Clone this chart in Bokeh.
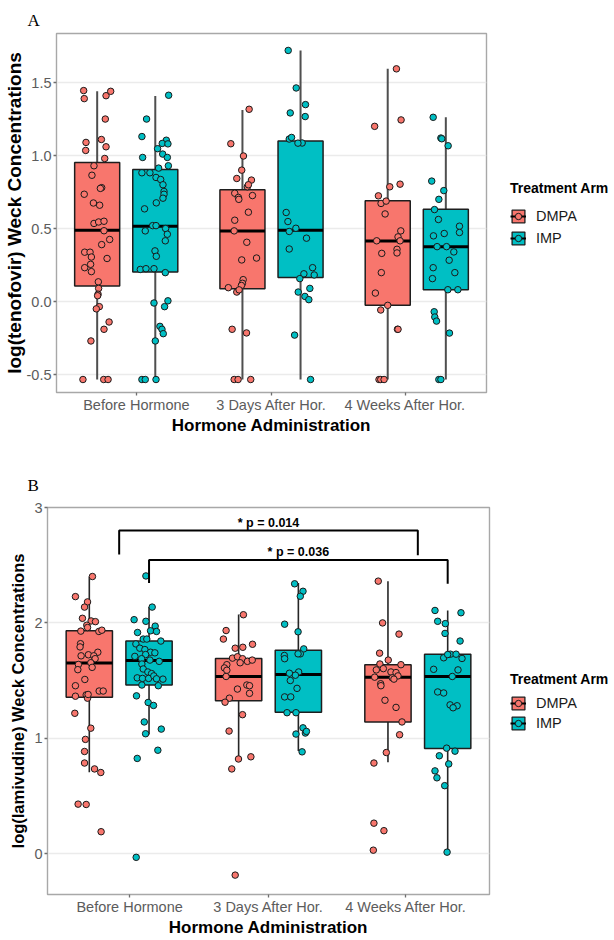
from bokeh.plotting import figure
from bokeh.models import (ColumnDataSource, FixedTicker, Legend, LegendItem,
                          Title, Range1d)
from bokeh.layouts import row
from bokeh.embed import file_html
from bokeh.resources import INLINE
from bokeh.core.properties import value

# ---------------- data ----------------
categories = ["Before Hormone", "3 Days After Hor.", "4 Weeks After Hor."]
arms = ["DMPA", "IMP"]
arm_colors = ["#F8766D", "#00BFC4"]
x_tick_positions = [1.07, 2.0, 2.92]

# Panel A: log(tenofovir)
a_y_ticks = [-0.5, 0.0, 0.5, 1.0, 1.5]
a_y_tick_labels = ["-0.5", "0.0", "0.5", "1.0", "1.5"]
a_dmpa_lower = [-0.534, -0.534, -0.534]
a_dmpa_q1 = [0.106, 0.088, -0.026]
a_dmpa_median = [0.489, 0.484, 0.415]
a_dmpa_q3 = [0.953, 0.765, 0.690]
a_dmpa_upper = [1.440, 1.312, 1.594]
a_imp_lower = [-0.534, -0.534, -0.534]
a_imp_q1 = [0.203, 0.164, 0.081]
a_imp_median = [0.516, 0.489, 0.376]
a_imp_q3 = [0.905, 1.100, 0.633]
a_imp_upper = [1.408, 1.720, 1.262]

a_dmpa_before_y = [1.445, 1.39, 1.41, 1.44, 1.25, 1.09, 1.035, 1.11, 1.06, 0.98, 0.93, 0.865, 0.78, 0.775,
                   0.735, 0.675, 0.66, 0.535, 0.545, 0.55, 0.485, 0.425, 0.39, 0.338, 0.338, 0.305, 0.295,
                   0.255, 0.232, 0.205, 0.135, 0.09, 0.05, 0.04, -0.035, -0.05, -0.14, -0.19, -0.27,
                   -0.534, -0.534, -0.534]
a_dmpa_before_jit = [-0.093, -0.089, 0.061, 0.093, 0.056, -0.077, -0.079, 0.029, 0.061, 0.052, -0.022, -0.036,
                     0.031, 0.022, -0.089, -0.026, 0.017, -0.022, 0.010, 0.047, 0.047, 0.086, 0.031, -0.086,
                     -0.049, -0.040, 0.068, -0.045, -0.086, -0.040, 0.008, 0.010, 0.006, 0.003, 0.015, -0.006,
                     0.082, 0.047, -0.043, -0.098, 0.045, 0.075]
a_imp_before_y = [1.413, 1.25, 1.13, 0.987, 1.105, 1.083, 1.08, 1.047, 1.01, 0.987, 0.93, 0.914, 0.882, 0.882,
                  0.85, 0.836, 0.80, 0.754, 0.735, 0.708, 0.676, 0.635, 0.484, 0.52, 0.52, 0.50, 0.461, 0.416,
                  0.347, 0.31, 0.22, 0.225, 0.225, 0.198, -0.01, 0.005, -0.035, -0.17, -0.19, -0.22, -0.27,
                  -0.534, -0.534, -0.534]
a_imp_before_jit = [0.092, -0.060, -0.092, -0.087, 0.076, 0.048, 0.087, 0.016, 0.051, 0.083, 0.090, 0.023,
                    -0.092, -0.037, 0.005, 0.037, 0.053, 0.060, 0.060, 0.053, 0.007, -0.074, -0.069, -0.018,
                    0.005, 0.071, 0.083, 0.069, -0.002, 0.007, -0.103, -0.064, -0.009, 0.069, -0.009, 0.087,
                    0.064, 0.032, 0.046, 0.055, 0.0, -0.092, -0.069, 0.005]
a_dmpa_3days_y = [1.081, 1.317, 0.997, 0.843, 0.90, 0.832, 0.786, 0.80, 0.742, 0.713, 0.70, 0.726, 0.612, 0.557,
                  0.484, 0.406, 0.298, 0.285, 0.15, 0.125, 0.11, 0.095, 0.065, 0.08, -0.19, -0.215,
                  -0.534, -0.534, -0.534]
a_dmpa_3days_jit = [-0.080, 0.046, 0.007, -0.039, -0.005, 0.062, 0.034, 0.041, -0.053, -0.028, -0.025, 0.069,
                    0.041, -0.053, -0.057, 0.030, 0.097, -0.005, 0.005, 0.0, -0.007, -0.097, -0.039, -0.023,
                    -0.071, 0.028, -0.057, -0.030, 0.057]
a_imp_3days_y = [1.72, 1.463, 1.292, 1.349, 1.267, 1.113, 1.124, 1.086, 1.085, 0.61, 0.548, 0.48, 0.502, 0.36,
                 0.434, 0.232, 0.182, 0.19, 0.157, 0.09, 0.065, 0.035, 0.013, -0.23, -0.534]
a_imp_3days_jit = [-0.085, -0.030, -0.071, 0.034, 0.032, -0.078, -0.062, 0.011, -0.018, -0.099, -0.087, -0.078,
                   -0.032, -0.078, 0.041, 0.083, 0.094, 0.023, -0.005, 0.064, -0.016, 0.030, 0.057, -0.041,
                   0.069]
a_dmpa_4weeks_y = [1.594, 1.2, 1.244, 0.804, 0.786, 0.724, 0.672, 0.688, 0.60, 0.484, 0.443, 0.416, 0.416, 0.358,
                   0.333, 0.33, 0.198, 0.058, -0.026, -0.058, -0.19, -0.19, -0.534, -0.534, -0.534]
a_dmpa_4weeks_jit = [0.060, -0.090, 0.092, 0.085, 0.014, -0.064, -0.046, -0.011, -0.018, 0.090, 0.071, 0.085,
                     -0.076, 0.064, 0.064, -0.041, -0.044, -0.085, 0.0, -0.048, 0.067, 0.071, -0.060, -0.048,
                     -0.025]
a_imp_4weeks_y = [1.262, 1.12, 1.115, 1.067, 0.825, 0.76, 0.70, 0.63, 0.562, 0.45, 0.466, 0.516, 0.473, 0.376,
                  0.376, 0.34, 0.283, 0.232, 0.198, 0.157, 0.081, 0.081, -0.07, -0.106, -0.134, -0.216,
                  -0.534, -0.534]
a_imp_4weeks_jit = [-0.087, -0.034, -0.028, 0.016, -0.097, -0.014, -0.048, -0.078, -0.051, -0.085, -0.011, 0.094,
                    0.094, -0.060, 0.005, 0.055, 0.023, -0.087, 0.062, -0.092, 0.014, 0.083, -0.080, -0.076,
                    -0.064, 0.025, -0.048, -0.034]

# Panel B: log(lamivudine)
b_y_ticks = [0, 1, 2, 3]
b_y_tick_labels = ["0", "1", "2", "3"]
b_dmpa_lower = [0.707, 0.820, 0.792]
b_dmpa_q1 = [1.356, 1.325, 1.142]
b_dmpa_median = [1.652, 1.536, 1.530]
b_dmpa_q3 = [1.932, 1.692, 1.638]
b_dmpa_upper = [2.400, 2.074, 2.360]
b_imp_lower = [1.034, 0.890, 0.014]
b_imp_q1 = [1.462, 1.225, 0.912]
b_imp_median = [1.675, 1.553, 1.536]
b_imp_q3 = [1.843, 1.764, 1.729]
b_imp_upper = [2.137, 2.345, 2.108]

b_dmpa_before_y = [2.402, 2.228, 2.182, 2.137, 2.04, 2.017, 2.011, 1.98, 1.96, 1.929, 1.926, 1.937, 1.82, 1.792,
                   1.746, 1.724, 1.715, 1.715, 1.69, 1.655, 1.615, 1.64, 1.595, 1.51, 1.456, 1.41, 1.41, 1.365,
                   1.376, 1.348, 1.38, 1.217, 1.088, 0.991, 0.886, 0.786, 0.735, 0.704, 0.43, 0.427, 0.191]
b_dmpa_before_jit = [0.021, -0.093, -0.012, -0.032, -0.046, 0.012, 0.041, -0.017, -0.012, -0.057, 0.064, 0.084,
                     -0.059, -0.062, 0.057, -0.006, 0.030, -0.055, 0.039, 0.010, 0.019, -0.073, -0.077, -0.030,
                     -0.093, 0.066, 0.093, -0.093, -0.021, -0.012, -0.008, -0.097, 0.010, -0.026, -0.032,
                     -0.032, 0.035, 0.077, -0.075, -0.021, 0.079]
b_imp_before_y = [2.407, 2.137, 2.028, 2.014, 1.972, 1.932, 1.926, 1.917, 1.86, 1.86, 1.843, 1.818, 1.781, 1.769,
                  1.746, 1.741, 1.726, 1.71, 1.69, 1.678, 1.667, 1.644, 1.601, 1.575, 1.561, 1.524, 1.519, 1.519,
                  1.541, 1.516, 1.513, 1.462, 1.456, 1.368, 1.311, 1.285, 1.142, 1.08, 1.04, 0.897, 0.826,
                  -0.031]
b_imp_before_jit = [-0.021, 0.021, -0.100, -0.021, 0.041, 0.010, 0.050, -0.077, -0.039, -0.015, 0.079, -0.088,
                    -0.062, -0.028, 0.010, 0.039, -0.023, -0.095, -0.050, 0.006, 0.068, -0.048, -0.039, -0.008,
                    0.017, -0.079, -0.044, -0.003, 0.032, 0.050, 0.093, -0.048, 0.062, -0.084, -0.006, 0.030,
                    -0.032, 0.082, -0.023, 0.059, -0.079, -0.086]
b_dmpa_3days_y = [2.071, 1.934, 1.86, 1.781, 1.789, 1.815, 1.695, 1.707, 1.69, 1.667, 1.678, 1.638, 1.61, 1.59,
                  1.655, 1.536, 1.427, 1.462, 1.456, 1.39, 1.348, 1.313, 1.205, 1.063, 0.821, 0.84, 0.735,
                  -0.185]
b_dmpa_3days_jit = [0.032, -0.084, -0.102, -0.023, 0.028, 0.093, -0.041, -0.008, 0.026, 0.059, 0.091, -0.079,
                    -0.095, -0.079, 0.010, -0.084, -0.008, 0.055, 0.073, 0.073, -0.062, -0.091, 0.026, -0.064,
                    -0.001, 0.082, -0.046, -0.023]
b_imp_3days_y = [2.339, 2.274, 2.231, 1.989, 1.923, 1.775, 1.732, 1.732, 1.718, 1.69, 1.564, 1.575, 1.547, 1.501,
                 1.433, 1.359, 1.359, 1.222, 1.222, 1.037, 1.091, 1.046, 1.06, 0.883]
b_imp_3days_jit = [-0.025, 0.031, 0.013, -0.092, -0.002, 0.036, 0.013, -0.002, -0.094, -0.092, -0.060, 0.002,
                   -0.020, -0.054, -0.009, -0.092, -0.051, -0.076, -0.016, -0.016, 0.031, 0.047, 0.054, 0.025]
b_dmpa_4weeks_y = [2.362, 2.0, 1.903, 1.738, 1.678, 1.644, 1.638, 1.593, 1.604, 1.575, 1.57, 1.541, 1.524, 1.513,
                   1.53, 1.473, 1.456, 1.33, 1.268, 1.142, 1.031, 0.877, 0.786, 0.265, 0.2, 0.031]
b_dmpa_4weeks_jit = [-0.065, -0.036, 0.074, -0.056, 0.002, -0.054, 0.087, -0.078, -0.031, 0.020, 0.054, 0.067,
                     0.029, 0.040, -0.089, -0.049, -0.047, -0.020, 0.054, 0.094, 0.078, -0.011, -0.094, -0.094,
                     -0.027, -0.098]
b_imp_4weeks_y = [2.108, 2.088, 2.014, 1.994, 1.909, 1.843, 1.698, 1.729, 1.729, 1.692, 1.726, 1.598, 1.593,
                  1.536, 1.402, 1.393, 1.29, 1.282, 1.265, 0.915, 0.889, 0.849, 0.778, 0.718, 0.658, 0.59, 0.014]
b_imp_4weeks_jit = [-0.085, 0.089, -0.067, -0.016, -0.018, 0.083, -0.027, 0.018, 0.056, 0.096, 0.0, -0.094,
                    0.069, 0.031, -0.067, -0.027, 0.016, 0.063, 0.036, -0.007, 0.049, -0.056, 0.007, -0.085,
                    -0.072, -0.020, -0.004]

# significance brackets (panel B)
b_bracket_x0 = [1.0, 1.2]
b_bracket_x1 = [3.0, 3.2]
b_bracket_top = [2.80, 2.545]
b_bracket_drop0 = [2.593, 2.345]
b_bracket_drop1 = [2.587, 2.34]
b_bracket_text = ["* p = 0.014", "* p = 0.036"]

# ---------------- styling constants ----------------
FONT = "Liberation Sans"
DODGE = [-0.2, 0.2]
BOX_W = 0.31
PAGE_W = 614
NAN = float("nan")


def make_panel(stats, points, y_range, y_ticks, y_tick_labels, y_label, letter,
               main_w, height, border_top, border_bottom, border_left,
               ytitle_size, whisker_color, whisker_width, legend_x, legend_y, title_standoff,
               legend_spacing, letter_offset, letter_standoff, letter_valign, ylab_standoff):
    p = figure(width=main_w, height=height, x_range=Range1d(0.52, 3.48),
               y_range=Range1d(*y_range), output_backend="svg", toolbar_location=None)
    p.min_border_top = border_top
    p.min_border_bottom = border_bottom
    p.min_border_left = border_left
    p.min_border_right = 4
    p.background_fill_color = "white"
    p.border_fill_color = "white"
    p.outline_line_color = "#A8A8A8"
    p.outline_line_width = 1.4

    p.title = Title(text=letter, align="left", offset=letter_offset,
                    text_font="Liberation Serif", text_font_size="17px",
                    text_font_style="normal", text_color="black",
                    standoff=letter_standoff, vertical_align=letter_valign)

    p.xgrid.grid_line_color = None
    p.ygrid.ticker = FixedTicker(ticks=y_ticks)
    p.ygrid.grid_line_color = "#EBEBEB"
    p.ygrid.grid_line_width = 1.3

    p.xaxis.ticker = FixedTicker(ticks=x_tick_positions)
    p.xaxis.major_label_overrides = {t: c for t, c in zip(x_tick_positions, categories)}
    p.yaxis.ticker = FixedTicker(ticks=y_ticks)
    p.yaxis.major_label_overrides = {t: l for t, l in zip(y_ticks, y_tick_labels)}
    for ax in (p.xaxis[0], p.yaxis[0]):
        ax.axis_line_color = None
        ax.major_tick_line_color = "#6E6E6E"
        ax.major_tick_line_width = 1.3
        ax.major_tick_out = 3
        ax.major_tick_in = 0
        ax.minor_tick_line_color = None
        ax.major_label_text_font = FONT
        ax.major_label_text_font_size = "14.5px"
        ax.major_label_text_color = "#5C5C5C"
        ax.axis_label_text_font = FONT
        ax.axis_label_text_font_style = "bold"
        ax.axis_label_text_color = "black"
    p.xaxis.axis_label = "Hormone Administration"
    p.xaxis.axis_label_text_font_size = "17px"
    p.xaxis.major_label_standoff = 1
    p.xaxis.axis_label_standoff = 0
    p.yaxis.axis_label = y_label
    p.yaxis.axis_label_text_font_size = ytitle_size
    p.yaxis.major_label_standoff = 2
    p.yaxis.axis_label_standoff = ylab_standoff

    # side figure that carries the legend (same vertical borders as the main plot)
    lf = figure(width=PAGE_W - main_w, height=height, x_range=Range1d(0, 1), y_range=Range1d(0, 1),
                x_axis_type=None, y_axis_type=None, output_backend="svg", toolbar_location=None)
    lf.min_border_top = border_top
    lf.min_border_bottom = border_bottom
    lf.min_border_left = 0
    lf.min_border_right = 0
    lf.outline_line_color = None
    lf.background_fill_color = "white"
    lf.border_fill_color = "white"

    items = []
    for k, arm in enumerate(arms):
        lower, q1, med, q3, upper = stats[k]
        xs = [i + 1 + DODGE[k] for i in range(len(categories))]
        src = ColumnDataSource(dict(x=xs, lower=lower, q1=q1, med=med, q3=q3, upper=upper,
                                    left=[x - BOX_W / 2 for x in xs],
                                    right=[x + BOX_W / 2 for x in xs]))
        p.segment(x0="x", y0="lower", x1="x", y1="upper", source=src,
                  line_color=whisker_color, line_width=whisker_width)
        p.vbar(x="x", width=BOX_W, bottom="q1", top="q3", source=src,
               fill_color=arm_colors[k], line_color="#1E1E1E", line_width=1.5)
        p.segment(x0="left", y0="med", x1="right", y1="med", source=src,
                  line_color="black", line_width=3)
        px, py = [], []
        for i in range(len(categories)):
            ys, js = points[k][i]
            px += [i + 1 + DODGE[k] + j for j in js]
            py += ys
        p.scatter(px, py, size=6.5, fill_color=arm_colors[k],
                  line_color="#1A1A1A", line_width=1.0)

        # legend key glyphs: a single undrawable (NaN) row, so they only appear in the legend
        key_src = ColumnDataSource(dict(x=[NAN], y=[NAN], b=[NAN], t=[NAN], x1=[NAN]))
        kb = lf.vbar(x="x", width=1, bottom="b", top="t", source=key_src,
                     fill_color=arm_colors[k], line_color="#1E1E1E", line_width=1.3)
        km = lf.segment(x0="x", y0="y", x1="x1", y1="y", source=key_src,
                        line_color="black", line_width=2)
        kp = lf.scatter(x="x", y="y", source=key_src, size=6, fill_color=arm_colors[k],
                        line_color="#1A1A1A", line_width=1.0)
        items.append(LegendItem(label=arm, renderers=[kb, km, kp]))

    legend = Legend(items=items, title="Treatment Arm",
                    location=(legend_x, legend_y),
                    margin=0, padding=0, border_line_color=None,
                    background_fill_alpha=0.0,
                    title_text_font=FONT, title_text_font_style="bold",
                    title_text_font_size="14px", title_text_color="black",
                    title_standoff=title_standoff,
                    label_text_font=FONT, label_text_font_size="14.5px",
                    label_text_color="#1A1A1A",
                    glyph_width=16, glyph_height=16, label_height=16,
                    label_standoff=10, spacing=legend_spacing)
    lf.add_layout(legend)
    return p, lf


a_points = [
    [(a_dmpa_before_y, a_dmpa_before_jit), (a_dmpa_3days_y, a_dmpa_3days_jit),
     (a_dmpa_4weeks_y, a_dmpa_4weeks_jit)],
    [(a_imp_before_y, a_imp_before_jit), (a_imp_3days_y, a_imp_3days_jit),
     (a_imp_4weeks_y, a_imp_4weeks_jit)],
]
b_points = [
    [(b_dmpa_before_y, b_dmpa_before_jit), (b_dmpa_3days_y, b_dmpa_3days_jit),
     (b_dmpa_4weeks_y, b_dmpa_4weeks_jit)],
    [(b_imp_before_y, b_imp_before_jit), (b_imp_3days_y, b_imp_3days_jit),
     (b_imp_4weeks_y, b_imp_4weeks_jit)],
]
a_stats = [(a_dmpa_lower, a_dmpa_q1, a_dmpa_median, a_dmpa_q3, a_dmpa_upper),
           (a_imp_lower, a_imp_q1, a_imp_median, a_imp_q3, a_imp_upper)]
b_stats = [(b_dmpa_lower, b_dmpa_q1, b_dmpa_median, b_dmpa_q3, b_dmpa_upper),
           (b_imp_lower, b_imp_q1, b_imp_median, b_imp_q3, b_imp_upper)]

# Panel A: frame 33..392 x 56..486
pa, la = make_panel(a_stats, a_points, (-0.623, 1.836), a_y_ticks, a_y_tick_labels,
                    "log(tenofovir) Weck Concentrations", "A",
                    main_w=490, height=438, border_top=33, border_bottom=46, border_left=56,
                    ytitle_size="19px", whisker_color="#4F4F4F", whisker_width=2.0,
                    legend_x=20, legend_y=146, title_standoff=12, legend_spacing=6,
                    letter_offset=-29, letter_standoff=4, letter_valign="top", ylab_standoff=-1)

# Panel B: frame 507..894 x 47..489
pb, lb = make_panel(b_stats, b_points, (-0.353, 3.0), b_y_ticks, b_y_tick_labels,
                    "log(lamivudine) Weck Concentrations", "B",
                    main_w=493, height=502, border_top=69, border_bottom=46, border_left=47,
                    ytitle_size="16.5px", whisker_color="#262626", whisker_width=1.6,
                    legend_x=17, legend_y=163, title_standoff=8, legend_spacing=4,
                    letter_offset=-20, letter_standoff=26, letter_valign="bottom", ylab_standoff=4)

br_xs = [[x0, x0, x1, x1] for x0, x1 in zip(b_bracket_x0, b_bracket_x1)]
br_ys = [[d0, t, t, d1] for d0, t, d1 in zip(b_bracket_drop0, b_bracket_top, b_bracket_drop1)]
pb.multi_line(xs=br_xs, ys=br_ys, line_color="black", line_width=2.0)
txt_src = ColumnDataSource(dict(x=[(a + b) / 2 for a, b in zip(b_bracket_x0, b_bracket_x1)],
                                y=b_bracket_top, text=b_bracket_text))
pb.text(x="x", y="y", text="text", source=txt_src, text_font=value(FONT),
        text_font_size=value("12.5px"), text_font_style="bold", text_color="black",
        text_align="center", text_baseline="bottom", y_offset=-1)

open("out.html", "w").write(file_html([row(pa, la, spacing=0), row(pb, lb, spacing=0)], INLINE))
